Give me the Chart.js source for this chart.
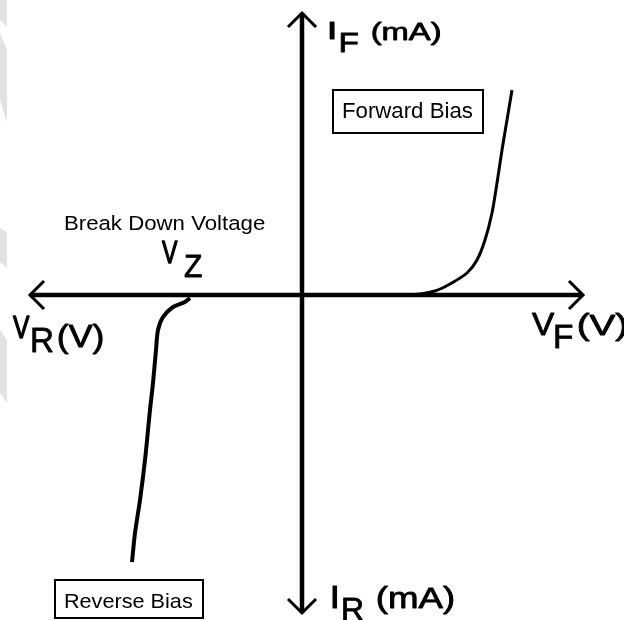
<!DOCTYPE html>
<html>
<head>
<meta charset="utf-8">
<script src="https://cdn.jsdelivr.net/npm/chart.js@4.4.1/dist/chart.umd.min.js"></script>
<style>
  html, body { margin: 0; padding: 0; background: #fff; }
  #wrap { width: 624px; height: 620px; position: relative; }
</style>
</head>
<body>
<div id="wrap"><canvas id="diode"></canvas></div>
<script>
// axis extents (V, mA) - the arrows sit on the ends
var vAxis = [-6.8, 7.025];
var iAxis = [14.1, -15.9];

// forward bias curve
var fwdV = [2.7, 2.95, 3.325, 3.7, 4.125, 4.375, 4.575, 4.75, 4.875, 5.0, 5.125, 5.25];
var fwdI = [0, 0.05, 0.2, 0.55, 1.1, 1.75, 2.75, 4.1, 5.6, 7.25, 8.75, 10.25];

// reverse bias / breakdown curve
var revV = [-2.8, -2.925, -3.225, -3.475, -3.6, -3.65, -3.725, -3.8, -3.925, -4.05, -4.175, -4.25];
var revI = [-0.15, -0.35, -0.6, -1.1, -1.75, -2.75, -4.4, -5.75, -8.25, -10.25, -11.9, -13.35];

function pts(xs, ys) {
  return xs.map(function (x, i) { return { x: x, y: ys[i] }; });
}

// text pieces: text, V, mA, cap height px, ink width px, extra stroke
var labels = [
  ['I', 0.7, 12.8, 16, 5, 0.8],
  ['F', 0.975, 12.15, 19, 17, 0.8],
  ['(mA)', 1.75, 12.75, 17, 68, 0.8],
  ['I', 0.75, -15.65, 21, 5, 0.8],
  ['R', 1.025, -16.25, 22, 20, 0.8],
  ['(mA)', 1.875, -15.65, 20, 76, 0.8],
  ['V', 5.75, -2.0, 22, 23, 0.8],
  ['F', 6.325, -2.65, 23, 18, 0.8],
  ['(V)', 6.9, -2.0, 20, 48, 0.8],
  ['V', -7.225, -2.15, 21, 17, 1.3],
  ['R', -6.75, -2.85, 24, 21, 0.8],
  ['(V)', -6.1, -2.6, 21, 45, 0.8],
  ['V', -3.5, 1.6, 21, 16, 1.3],
  ['Z', -2.925, 0.9, 22, 17, 0.8],
  ['Break Down Voltage', -5.925, 3.25, 14, 200, 0],
  ['Forward Bias', 1.025, 8.85, 15, 130, 0],
  ['Reverse Bias', -5.925, -15.65, 13.5, 128, 0]
];
// boxes: V1, mA1, V2, mA2
var boxes = [
  [0.775, 10.25, 4.525, 8.1],
  [-6.175, -14.25, -2.475, -16.15]
];

var FONT = '"Liberation Sans", Arial, sans-serif';

function fitText(ctx, str, left, base, cap, width, stroke) {
  ctx.font = '100px ' + FONT;
  var capRef = ctx.measureText('H').actualBoundingBoxAscent;
  var size = cap * 100 / capRef;
  ctx.font = size + 'px ' + FONT;
  var m = ctx.measureText(str);
  var ink = m.actualBoundingBoxLeft + m.actualBoundingBoxRight;
  ctx.save();
  ctx.translate(left, base);
  ctx.scale(width / ink, 1);
  ctx.fillText(str, m.actualBoundingBoxLeft, 0);
  if (stroke) {
    ctx.lineWidth = stroke;
    ctx.lineJoin = 'round';
    ctx.strokeText(str, m.actualBoundingBoxLeft, 0);
  }
  ctx.restore();
}

var watermark = {
  id: 'watermark',
  beforeDatasetsDraw: function (chart) {
    var ctx = chart.ctx;
    var polys = [
      [[0, 0], [7, 0], [7, 27], [0, 20]],
      [[0, 33], [7, 50], [7, 123], [0, 100]],
      [[0, 228], [7, 232], [7, 268], [0, 262]],
      [[0, 330], [7, 340], [7, 403], [0, 393]]
    ];
    ctx.save();
    ctx.fillStyle = '#e2e2e2';
    polys.forEach(function (p) {
      ctx.beginPath();
      p.forEach(function (q, i) { i ? ctx.lineTo(q[0], q[1]) : ctx.moveTo(q[0], q[1]); });
      ctx.closePath();
      ctx.fill();
    });
    ctx.restore();
  }
};

var decor = {
  id: 'decor',
  afterDatasetsDraw: function (chart) {
    var ctx = chart.ctx, sx = chart.scales.x, sy = chart.scales.y;
    ctx.save();
    ctx.strokeStyle = '#000';
    ctx.fillStyle = '#000';

    // open arrow heads on both axis lines
    ctx.lineWidth = 3;
    ctx.lineJoin = 'miter';
    [0, 1].forEach(function (d) {
      var el = chart.getDatasetMeta(d).data;
      [[0, 1], [1, 0]].forEach(function (pair) {
        var tip = el[pair[0]], other = el[pair[1]];
        var dx = tip.x - other.x, dy = tip.y - other.y;
        var len = Math.sqrt(dx * dx + dy * dy);
        var ux = dx / len, uy = dy / len;
        var back = 14, half = 14;
        ctx.beginPath();
        ctx.moveTo(tip.x - ux * back - uy * half, tip.y - uy * back + ux * half);
        ctx.lineTo(tip.x, tip.y);
        ctx.lineTo(tip.x - ux * back + uy * half, tip.y - uy * back - ux * half);
        ctx.stroke();
      });
    });

    // label boxes
    ctx.lineWidth = 2;
    boxes.forEach(function (b) {
      var x1 = sx.getPixelForValue(b[0]), y1 = sy.getPixelForValue(b[1]);
      var x2 = sx.getPixelForValue(b[2]), y2 = sy.getPixelForValue(b[3]);
      ctx.strokeRect(x1, y1, x2 - x1, y2 - y1);
    });

    ctx.textAlign = 'left';
    ctx.textBaseline = 'alphabetic';
    labels.forEach(function (l) {
      fitText(ctx, l[0], sx.getPixelForValue(l[1]), sy.getPixelForValue(l[2]), l[3], l[4], l[5]);
    });
    ctx.restore();
  }
};

function line(data, width, tension) {
  return {
    data: data,
    showLine: true,
    pointRadius: 0,
    borderColor: '#000',
    backgroundColor: '#000',
    borderWidth: width,
    borderCapStyle: 'butt',
    tension: tension,
    fill: false
  };
}

new Chart(document.getElementById('diode'), {
  type: 'scatter',
  data: {
    datasets: [
      line(pts(vAxis, [0, 0]), 4.5, 0),
      line(pts([0, 0], iAxis), 4.5, 0),
      line(pts(fwdV, fwdI), 3, 0.3),
      line(pts(revV, revI), 4, 0.3)
    ]
  },
  options: {
    responsive: true,
    maintainAspectRatio: false,
    animation: false,
    layout: { padding: 0, autoPadding: false },
    scales: {
      x: { type: 'linear', min: -7.55, max: 8.05, display: false },
      y: { type: 'linear', min: -16.25, max: 14.75, display: false }
    },
    plugins: {
      colors: { enabled: false },
      legend: { display: false },
      tooltip: { enabled: false }
    }
  },
  plugins: [watermark, decor]
});
</script>
</body>
</html>
